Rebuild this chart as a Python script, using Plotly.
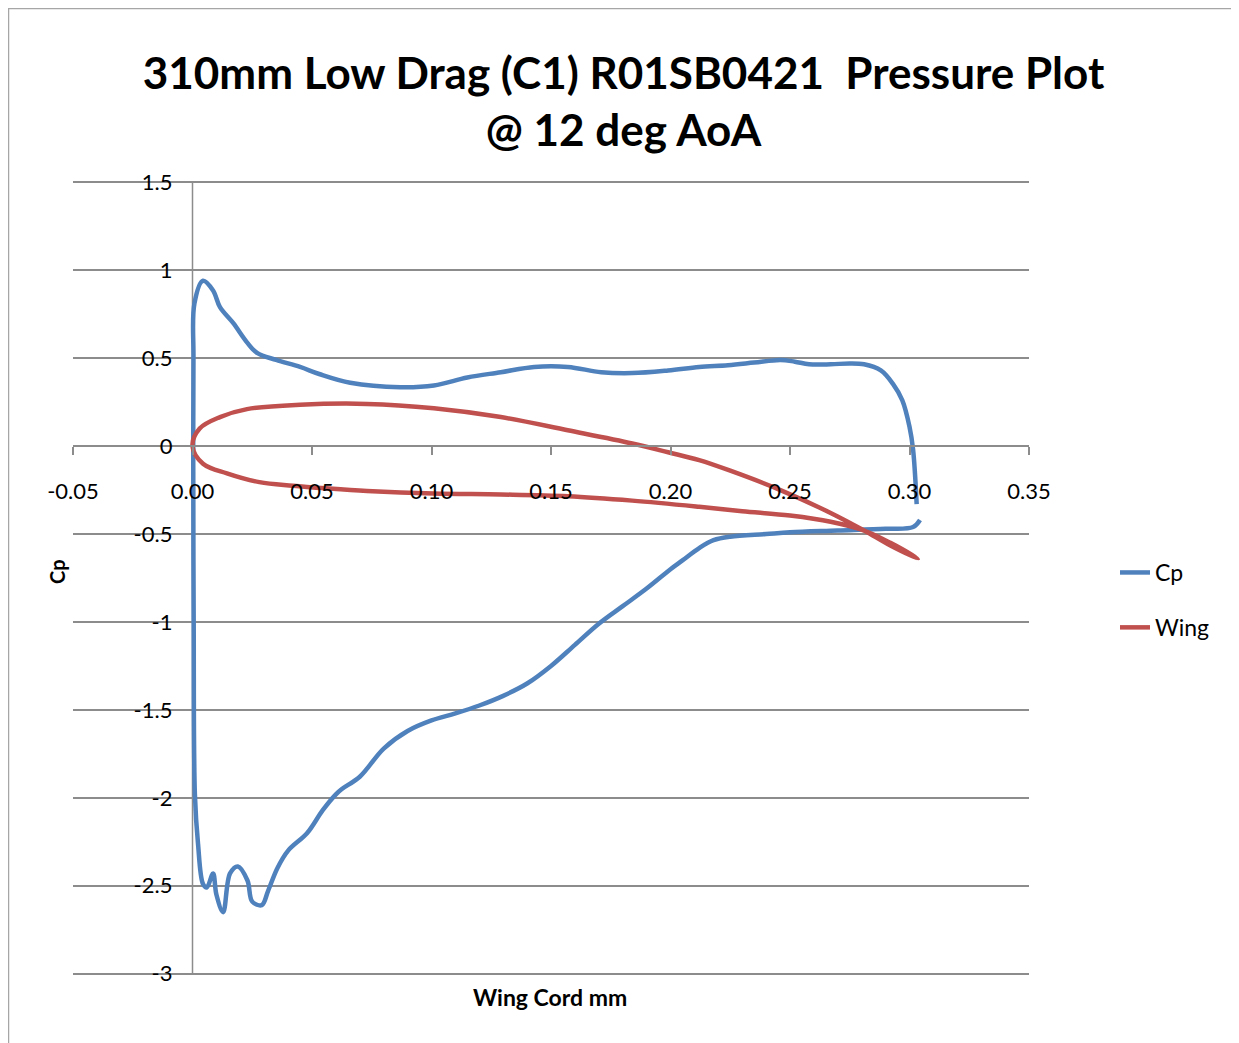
import plotly.graph_objects as go

# ---- data ----
cp_x = [0.3044, 0.3015, 0.290, 0.270, 0.250, 0.240, 0.225, 0.218, 0.212, 0.205, 0.200, 0.190,
        0.180, 0.170, 0.160, 0.150, 0.140, 0.130, 0.120, 0.110, 0.100, 0.090,
        0.080, 0.070, 0.0625, 0.060, 0.0545, 0.048, 0.040, 0.0355, 0.0316, 0.029,
        0.025, 0.023, 0.019, 0.0157, 0.0128, 0.010, 0.0086, 0.006, 0.0044, 0.0023,
        0.0010, 0.0005, 0.0003, 0.0004, 0.0008, 0.0044, 0.0086, 0.0115, 0.017, 0.0228,
        0.027, 0.035, 0.045, 0.053, 0.066, 0.087, 0.101, 0.115, 0.129, 0.143,
        0.157, 0.171, 0.184, 0.199, 0.212, 0.224, 0.235, 0.246, 0.252, 0.258, 0.267,
        0.275, 0.281, 0.288, 0.293, 0.297, 0.300, 0.3015, 0.303]
cp_y = [-0.42, -0.46, -0.47, -0.48, -0.49, -0.50, -0.515, -0.535, -0.58, -0.65, -0.70, -0.81,
        -0.91, -1.01, -1.13, -1.25, -1.35, -1.42, -1.475, -1.52, -1.56, -1.62,
        -1.72, -1.88, -1.95, -1.98, -2.07, -2.20, -2.30, -2.40, -2.53, -2.61,
        -2.59, -2.47, -2.39, -2.43, -2.65, -2.55, -2.43, -2.51, -2.49, -2.26,
        -1.98, -1.00, 0.00, 0.50, 0.81, 0.94, 0.885, 0.79, 0.70, 0.59,
        0.53, 0.49, 0.45, 0.41, 0.36, 0.335, 0.345, 0.39, 0.42, 0.45,
        0.45, 0.42, 0.415, 0.43, 0.45, 0.46, 0.475, 0.49, 0.48, 0.465, 0.465,
        0.47, 0.465, 0.43, 0.355, 0.26, 0.11, -0.02, -0.33]

wing_x = [0.3035, 0.292, 0.281, 0.267, 0.246, 0.225, 0.212, 0.199, 0.184, 0.157,
          0.129, 0.101, 0.073, 0.045, 0.0228, 0.0115, 0.003, 0.0,
          0.0044, 0.0144, 0.028, 0.042, 0.056, 0.073, 0.101, 0.129, 0.157, 0.184,
          0.212, 0.230, 0.250, 0.267, 0.281, 0.292, 0.3035]
wing_y = [-0.64, -0.565, -0.48, -0.38, -0.25, -0.14, -0.08, -0.035, 0.015, 0.09,
          0.165, 0.215, 0.24, 0.235, 0.21, 0.165, 0.10, 0.0,
          -0.10, -0.155, -0.205, -0.225, -0.24, -0.255, -0.27, -0.275, -0.285, -0.31,
          -0.345, -0.37, -0.395, -0.43, -0.48, -0.55, -0.64]

x_tick_vals = [-0.05, 0.0, 0.05, 0.10, 0.15, 0.20, 0.25, 0.30, 0.35]
x_tick_labels = ["-0.05", "0.00", "0.05", "0.10", "0.15", "0.20", "0.25", "0.30", "0.35"]
y_tick_vals = [1.5, 1, 0.5, 0, -0.5, -1, -1.5, -2, -2.5, -3]
y_tick_labels = ["1.5", "1", "0.5", "0", "-0.5", "-1", "-1.5", "-2", "-2.5", "-3"]

TITLE = "310mm Low Drag (C1) R01SB0421\u00a0 Pressure Plot<br>@ 12 deg AoA"
FONT = "Lato, 'Open Sans', sans-serif"
GRID = "#8c8c8c"

fig = go.Figure()
fig.add_trace(go.Scatter(x=cp_x, y=cp_y, mode="lines", name="Cp", legendgroup="a",
                         line=dict(color="#4F81BD", width=4.5, shape="spline", smoothing=1.0)))
fig.add_trace(go.Scatter(x=wing_x, y=wing_y, mode="lines", name="Wing", legendgroup="b",
                         line=dict(color="#C0504D", width=4.5, shape="spline", smoothing=1.0)))

OFF = 8  # page body margin
W, H = 1231, 1035
pw = 956
L = 65
R = W - L - pw

YMIN, YMAX = -3.013, 1.513
XMIN, XMAX = -0.05, 0.35
# keep the y=1.5 and y=-3 gridlines at page rows 182 and 973
ppu = (973 - 182) / 4.5
T = int(round(182 - OFF - (YMAX - 1.5) * ppu))
ph = int(round((YMAX - YMIN) * ppu))
B = H - T - ph

def px_x(p):
    return (p - OFF - L) / pw

def px_y(p):
    return (H - B - (p - OFF)) / ph

fig.update_layout(
    width=W, height=H,
    margin=dict(l=L, r=R, t=T, b=B),
    paper_bgcolor="white", plot_bgcolor="white",
    font=dict(family=FONT, color="#000000", size=22),
    title=dict(text=TITLE, x=0.5, xanchor="center", y=1 - (89 - OFF) / H, yanchor="middle",
               font=dict(family=FONT, size=44, color="#000000", weight="bold")),
    showlegend=True,
    legend=dict(x=px_x(1115), y=px_y(600), xanchor="left", yanchor="middle",
                font=dict(family=FONT, size=23), tracegroupgap=22,
                bgcolor="rgba(0,0,0,0)"),
    xaxis=dict(range=[XMIN, XMAX], tickvals=x_tick_vals, ticktext=x_tick_labels,
               anchor="free", position=(0 - YMIN) / (YMAX - YMIN), showgrid=False, zeroline=False,
               showline=True, linecolor=GRID, linewidth=1.5,
               ticks="outside", ticklen=8, tickcolor=GRID, tickwidth=1.5,
               ticklabelstandoff=18, tickfont=dict(size=22)),
    yaxis=dict(range=[YMIN, YMAX], tickvals=y_tick_vals, ticktext=y_tick_labels,
               anchor="free", position=(0 - XMIN) / (XMAX - XMIN), showgrid=True, gridcolor=GRID,
               gridwidth=1.5, zeroline=False, showline=False,
               ticks="", ticklabelstandoff=20, tickfont=dict(size=22)),
    annotations=[
        dict(text="<b>Wing Cord mm</b>", x=px_x(550), y=px_y(997), xref="paper", yref="paper",
             showarrow=False, xanchor="center", yanchor="middle", font=dict(size=23)),
        dict(text="<b>Cp</b>", x=px_x(57), y=px_y(572), xref="paper", yref="paper",
             showarrow=False, xanchor="center", yanchor="middle", textangle=-90,
             font=dict(size=20)),
    ],
    shapes=[
        dict(type="rect", xref="paper", yref="paper",
             x0=px_x(OFF + 0.5), x1=px_x(1237), y0=px_y(1060), y1=px_y(OFF + 0.5),
             line=dict(color="#a6a6a6", width=1.5), fillcolor="rgba(0,0,0,0)", layer="below"),
        # vertical value axis line at x = 0, spanning the tick range
        dict(type="line", xref="x", yref="y", x0=0, x1=0,
             y0=min(y_tick_vals), y1=max(y_tick_vals),
             line=dict(color=GRID, width=1.5), layer="below"),
    ],
)

fig.write_html("out.html")
